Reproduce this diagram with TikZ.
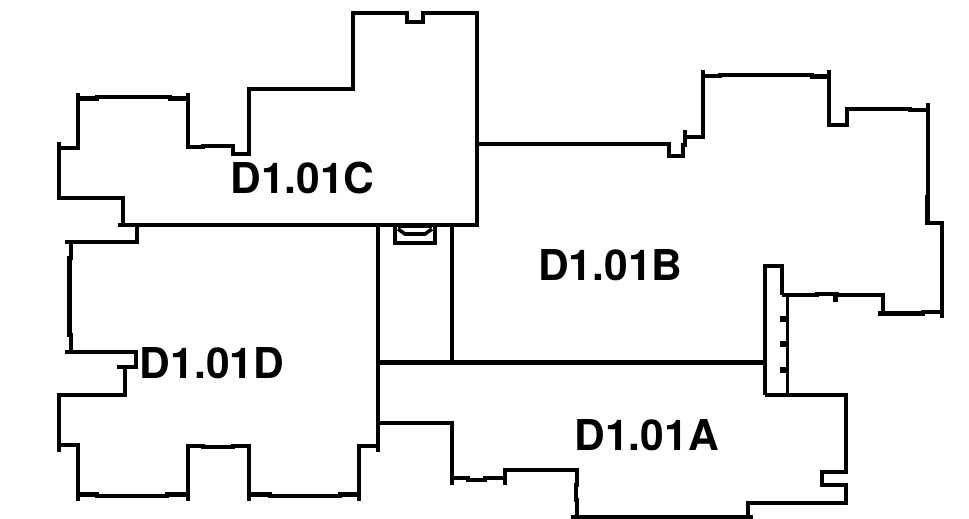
\documentclass[tikz,border=0pt]{standalone}
\usepackage{fontspec}
\setmainfont{TeX Gyre Heros}
\tikzset{
  wall/.style={line width=4.3pt, black, miter limit=4},
  fitting/.style={line width=3.6pt, black},
  roomlabel/.style={font=\fontsize{42.5}{42.5}\selectfont\bfseries, inner sep=0pt}
}
\begin{document}
\begin{tikzpicture}[x=1pt, y=-1pt]
\useasboundingbox (0,0) rectangle (969,519);

% room C
\draw [wall] (118,225) -- (476.7,225) -- (476.7,12.7) -- (423,12.7) -- (423,21.7) -- (406.7,21.7) -- (406.7,12.7) -- (352.7,12.7) -- (352.7,89.3) -- (249.3,89.3) -- (249.3,154) -- (233.3,154) -- (233.3,146) -- (203,146) -- (203,147.3) -- (187.7,147.3);
\draw [wall] (187.7,92.7) -- (187.7,148.5);
\draw [wall] (187.7,98.5) -- (170,98.5) -- (170,97) -- (97,97) -- (97,98.5) -- (77.7,98.5);
\draw [wall] (77.7,92.7) -- (77.7,148.3) -- (59.3,148.3);
\draw [wall] (59.3,141.7) -- (59.3,198.3) -- (122.7,198.3) -- (122.7,225);

% room D
\draw [wall] (136.7,225) -- (136.7,241.7) -- (65,241.7);
\draw [wall] (70.7,241.7) -- (70.7,258) -- (69.5,258) -- (69.5,335) -- (70.7,335) -- (70.7,351.7);
\draw [wall] (65,351.7) -- (136,351.7) -- (136,367.3) -- (116.7,367.3);
\draw [wall] (125,367.3) -- (125,395) -- (59.3,395) -- (59.3,451.7);
\draw [wall] (59.3,445) -- (77.7,445) -- (77.7,500.7);
\draw [wall] (77.7,494.5) -- (97,494.5) -- (97,496) -- (167,496) -- (167,494.5) -- (187.7,494.5);
\draw [wall] (187.7,500.7) -- (187.7,445.7) -- (203,445.7) -- (203,447) -- (233,447) -- (233,445.7) -- (249.3,445.7) -- (249.3,500.7);
\draw [wall] (249.3,494.5) -- (270,494.5) -- (270,496) -- (340,496) -- (340,494.5) -- (359.3,494.5);
\draw [wall] (359.3,500.7) -- (359.3,445.7) -- (378.3,445.7);

% corridor
\draw [wall] (378.3,225) -- (378.3,451.7);
\draw [wall] (451.7,225) -- (451.7,362.5);
\draw [wall] (378.3,362.5) -- (765,362.5);

% fitting at the head of the corridor
\draw [fitting] (394.7,226) -- (394.7,243) -- (435,243) -- (435,226);
\draw [fitting] (398,229) -- (405,234) -- (425,234) -- (432,229);
\draw [wall, line width=2.5pt] (398,227) -- (432,227);

% room A
\draw [wall] (378.3,423.3) -- (451.7,423.3) -- (451.7,485);
\draw [wall] (451.7,478.3) -- (468,478.3) -- (468,480) -- (485,480) -- (485,478.3) -- (505,478.3);
\draw [wall] (505,485) -- (505,470) -- (576.7,470) -- (576.7,485) -- (575.7,485) -- (575.7,500) -- (576.7,500) -- (576.7,516.7);
\draw [wall] (570.7,516.7) -- (753.3,516.7);
\draw [wall] (747.7,516.7) -- (747.7,503.3) -- (845.7,503.3) -- (845.7,485) -- (821.7,485) -- (821.7,471.7) -- (845.7,471.7) -- (845.7,395) -- (765,395);

% strip between A and B
\draw [wall] (765,395) -- (765,266) -- (781.7,266) -- (781.7,295);
\draw [wall, line width=3.4pt] (787.3,295) -- (787.3,395);
\draw [wall, line width=6pt] (780,319.3) -- (787.3,319.3);
\draw [wall, line width=6pt] (780,344.3) -- (787.3,344.3);
\draw [wall, line width=6pt] (780,370) -- (787.3,370);

% room B
\draw [wall] (476.7,144) -- (669,144) -- (669,156) -- (682.7,156) -- (682.7,145) -- (685,145) -- (685,130);
\draw [wall] (685,136.7) -- (703.3,136.7) -- (703.3,70);
\draw [wall] (703.3,76) -- (720,76) -- (720,75) -- (811.7,75) -- (811.7,76.5) -- (829.3,76.5);
\draw [wall] (829.3,70) -- (829.3,125) -- (846.7,125) -- (846.7,109.3) -- (910,109.3) -- (910,110.3) -- (928.3,110.3);
\draw [wall] (928.3,103.3) -- (928.3,196.7) -- (927.5,196.7) -- (927.5,223.3) -- (941.7,223.3) -- (941.7,318.3);
\draw [wall] (941.7,312.3) -- (923,312.3) -- (923,313.5) -- (878.3,313.5);
\draw [wall] (883.3,313.5) -- (883.3,295) -- (836.7,295) -- (836.7,294) -- (816.7,294) -- (816.7,295) -- (781.7,295);
\draw [wall, line width=5pt] (835.7,295) -- (835.7,301.7);

\draw (302.5,178) node (roomC) [roomlabel] {D1.01C};
\draw (212,363) node (roomD) [roomlabel] {D1.01D};
\draw (610.3,265) node (roomB) [roomlabel] {D1.01B};
\draw (646.7,435) node (roomA) [roomlabel] {D1.01A};

\end{tikzpicture}
\end{document}
